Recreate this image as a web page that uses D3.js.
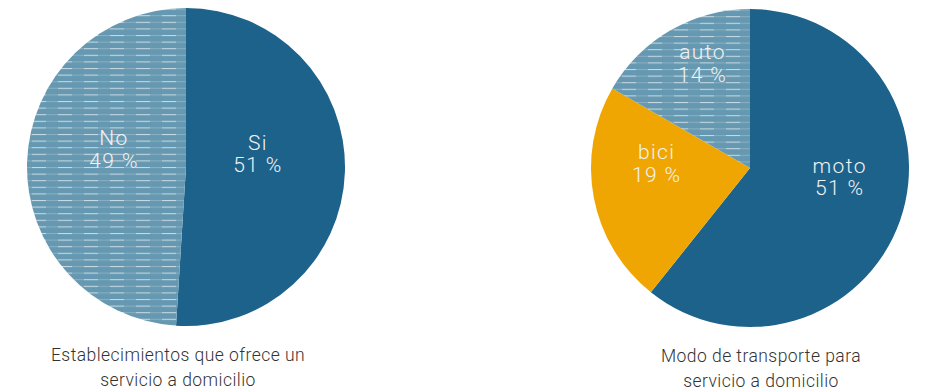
<!DOCTYPE html>
<html>
<head>
<meta charset="utf-8">
<script src="https://cdn.jsdelivr.net/npm/d3@7"></script>
<style>
  html, body { margin: 0; padding: 0; background: #fff; }
  svg text { font-family: Roboto, "Open Sans", sans-serif; }
</style>
</head>
<body>
<svg id="chart" width="926" height="391"></svg>
<script>
// Establecimientos con servicio a domicilio
const serviceCategories = ["Si", "No"];
const serviceValues = [51, 49];

// Modo de transporte usado para el servicio
const transportCategories = ["moto", "bici", "auto"];
const transportValues = [51, 19, 14];

const captionService = ["Establecimientos que ofrece un", "servicio a domicilio"];
const captionTransport = ["Modo de transporte para", "servicio a domicilio"];

const colors = {
  Si: "#1c628b", moto: "#1c628b",
  No: "url(#stripes)", auto: "url(#stripes)",
  bici: "#f0a602"
};

const svg = d3.select("#chart");

// light blue fill crossed by thin white horizontal dashes
const defs = svg.append("defs");
const pat = defs.append("pattern")
  .attr("id", "stripes")
  .attr("patternUnits", "userSpaceOnUse")
  .attr("width", 26).attr("height", 6.6);
pat.append("rect").attr("width", 26).attr("height", 6.6).attr("fill", "#6699b1");
pat.append("line")
  .attr("x1", 0).attr("x2", 26).attr("y1", 0.5).attr("y2", 0.5)
  .attr("stroke", "#ffffff").attr("stroke-opacity", 0.22).attr("stroke-width", 1);
pat.append("line")
  .attr("x1", 2).attr("x2", 16).attr("y1", 0.5).attr("y2", 0.5)
  .attr("stroke", "#ffffff").attr("stroke-opacity", 0.55).attr("stroke-width", 1);

const radius = 159;
const pie = d3.pie().sort(null).value(d => d.value);
const arc = d3.arc().innerRadius(0).outerRadius(radius);

function drawPie(cx, cy, cats, vals, caption, labelR, labelDy, capDx) {
  const data = cats.map((c, i) => ({ name: c, value: vals[i] }));
  const g = svg.append("g").attr("transform", `translate(${cx},${cy})`);
  const arcs = pie(data);

  g.selectAll("path.slice")
    .data(arcs)
    .join("path")
    .attr("class", "slice")
    .attr("d", arc)
    .attr("fill", d => colors[d.data.name]);

  // two-line label (name, percentage) around each slice's centroid
  const la = d3.arc().innerRadius(labelR).outerRadius(labelR);
  const lbl = g.selectAll("g.lbl")
    .data(arcs)
    .join("g")
    .attr("class", "lbl")
    .attr("transform", d => {
      const [x, y] = la.centroid(d);
      return `translate(${x},${y + labelDy})`;
    });
  [d => d.data.name, d => `${d.data.value} %`].forEach((fn, i) => {
    lbl.append("text")
      .attr("text-anchor", "middle")
      .attr("fill", "#f2f2f2")
      .attr("font-size", 21)
      .attr("font-weight", 300)
      .attr("letter-spacing", 1.4)
      .attr("y", (i - 1) * 22.5)
      .text(fn);
  });

  caption.forEach((line, i) => {
    svg.append("text")
      .attr("text-anchor", "middle")
      .attr("fill", "#333")
      .attr("font-size", 17.5)
      .attr("font-weight", 300)
      .attr("letter-spacing", 0.45)
      .attr("x", cx + capDx)
      .attr("y", cy + radius + 35 + i * 25)
      .text(line);
  });
}

drawPie(186, 167, serviceCategories, serviceValues, captionService, 72, 3, -8);
drawPie(750, 168, transportCategories, transportValues, captionTransport, 95, -4, 11);
</script>
</body>
</html>
